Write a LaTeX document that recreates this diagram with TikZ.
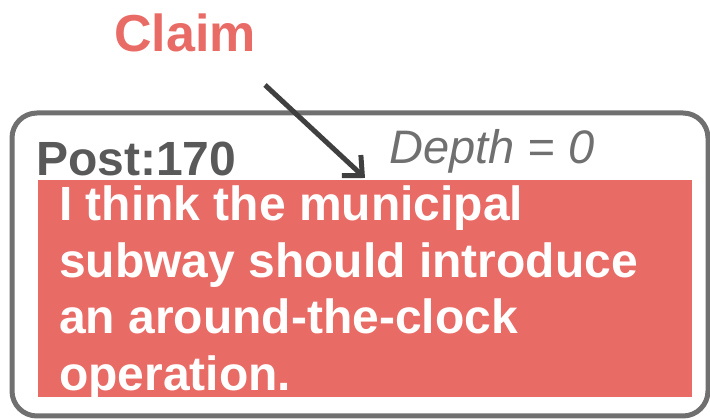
\documentclass[tikz,border=0pt]{standalone}
\usepackage{fontspec}
\setmainfont{Liberation Sans}
\usetikzlibrary{arrows.meta}
\definecolor{claimred}{HTML}{E96B66}
\definecolor{boxgray}{HTML}{707070}
\definecolor{postgray}{HTML}{595959}
\definecolor{arrowgray}{HTML}{404040}

\begin{document}
\begin{tikzpicture}[x=1pt, y=-1pt,
    >={Straight Barb[length=15pt, width=28pt]},
    lbl/.style={inner sep=0pt, anchor=base west}]
    \useasboundingbox (0,0) rectangle (710,419);
    % outer post frame and statement box
    \draw[boxgray, line width=5pt, rounded corners=25pt] (12,113) rectangle (708,416);
    \node[fill=claimred, inner sep=0pt, anchor=north west, minimum width=654pt, minimum height=217pt] (stmt) at (38,180) {};
    % labels
    \node[lbl, text=claimred, font=\fontsize{52}{60}\selectfont\bfseries] (claim) at (114,52) {Claim};
    \node[lbl, text=postgray, font=\fontsize{48}{52}\selectfont\bfseries] (post) at (36,176) {Post:170};
    \node[lbl, text=boxgray, font=\fontsize{47}{50}\selectfont\itshape] (depth) at (389,164) {Depth = 0};
    \node[inner sep=0pt, anchor=north west, align=left, text=white, font=\fontsize{48}{56.5}\selectfont\bfseries] (text) at (59,186)
        {I think the municipal\\subway should introduce\\an around-the-clock\\operation.};
    % claim arrow
    \coordinate (tail) at (265,85);
    \coordinate (tip) at (365,178);
    \draw[->, arrowgray, line width=5pt] (tail) -- (tip);
\end{tikzpicture}
\end{document}
